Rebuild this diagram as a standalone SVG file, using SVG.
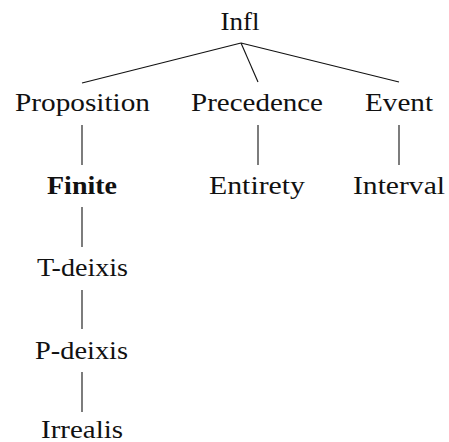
<svg xmlns="http://www.w3.org/2000/svg" width="449" height="442" viewBox="0 0 449 442">
<style>
text{font-family:'Liberation Serif','DejaVu Serif','Times New Roman',serif;font-size:25px;fill:#111;text-anchor:middle}
.b{font-weight:bold}
line{stroke:#111;stroke-width:1.1}
</style>
<rect width="449" height="442" fill="#fff"/>
<g id="connectors">
<line x1="241" y1="43" x2="82" y2="83"/>
<line x1="241" y1="43" x2="258" y2="82"/>
<line x1="241" y1="43" x2="399" y2="82"/>
<line x1="82" y1="125" x2="82" y2="165"/>
<line x1="258" y1="125" x2="258" y2="165"/>
<line x1="399" y1="125" x2="399" y2="165"/>
<line x1="82" y1="207" x2="82" y2="247"/>
<line x1="82" y1="290" x2="82" y2="329"/>
<line x1="82" y1="372" x2="82" y2="412"/>
</g>
<g id="infl"><text x="240" y="30" textLength="39" lengthAdjust="spacingAndGlyphs">Infl</text></g>
<g id="proposition"><text x="82.5" y="111" textLength="135" lengthAdjust="spacingAndGlyphs">Proposition</text></g>
<g id="precedence"><text x="257" y="111" textLength="132" lengthAdjust="spacingAndGlyphs">Precedence</text></g>
<g id="event"><text x="399" y="111" textLength="68" lengthAdjust="spacingAndGlyphs">Event</text></g>
<g id="finite"><text class="b" x="82" y="194" textLength="70" lengthAdjust="spacingAndGlyphs">Finite</text></g>
<g id="entirety"><text x="257" y="194" textLength="96" lengthAdjust="spacingAndGlyphs">Entirety</text></g>
<g id="interval"><text x="399" y="194" textLength="92" lengthAdjust="spacingAndGlyphs">Interval</text></g>
<g id="tdeixis"><text x="82.5" y="276" textLength="91" lengthAdjust="spacingAndGlyphs">T-deixis</text></g>
<g id="pdeixis"><text x="81.5" y="359" textLength="93" lengthAdjust="spacingAndGlyphs">P-deixis</text></g>
<g id="irrealis"><text x="82" y="438" textLength="82" lengthAdjust="spacingAndGlyphs">Irrealis</text></g>
</svg>
